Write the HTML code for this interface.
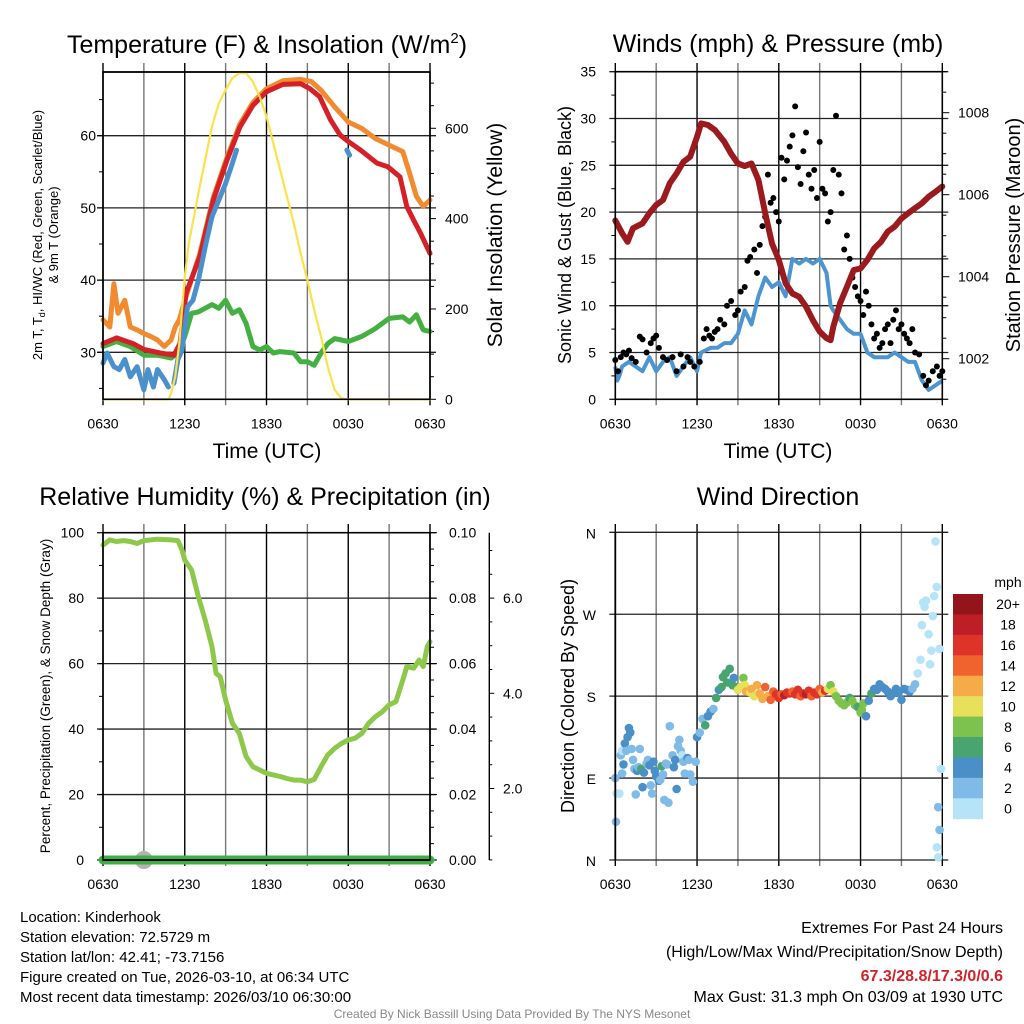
<!DOCTYPE html>
<html><head><meta charset="utf-8">
<style>
html,body{margin:0;padding:0;background:#fff;}
svg{display:block;font-family:"Liberation Sans",Arial,sans-serif;}
</style></head>
<body>
<svg id="fig" width="1024" height="1024" viewBox="0 0 1024 1024" xmlns="http://www.w3.org/2000/svg">
<rect width="1024" height="1024" fill="#fff"/>
<g id="p1"></g>
<g id="p2"></g>
<g id="p3"></g>
<g id="p4"></g>

<text x="267" y="53" font-size="25" text-anchor="middle">Temperature (F) &amp; Insolation (W/m<tspan dy="-10" font-size="15">2</tspan><tspan dy="10">)</tspan></text>
<text x="778" y="52" font-size="25" text-anchor="middle">Winds (mph) &amp; Pressure (mb)</text>
<text x="265" y="505" font-size="25" text-anchor="middle">Relative Humidity (%) &amp; Precipitation (in)</text>
<text x="778" y="505" font-size="25" text-anchor="middle">Wind Direction</text>

<text x="267" y="458" font-size="21" text-anchor="middle">Time (UTC)</text>
<text x="778" y="458" font-size="21" text-anchor="middle">Time (UTC)</text>

<text transform="translate(42,235) rotate(-90)" font-size="13" text-anchor="middle">2m T, T<tspan dy="3" font-size="9">d</tspan><tspan dy="-3">, HI/WC (Red, Green, Scarlet/Blue)</tspan></text>
<text transform="translate(58,235) rotate(-90)" font-size="13" text-anchor="middle">&amp; 9m T (Orange)</text>
<text transform="translate(502,235) rotate(-90)" font-size="21" text-anchor="middle">Solar Insolation (Yellow)</text>
<text transform="translate(571,235) rotate(-90)" font-size="18" text-anchor="middle">Sonic Wind &amp; Gust (Blue, Black)</text>
<text transform="translate(1020,235) rotate(-90)" font-size="20" text-anchor="middle">Station Pressure (Maroon)</text>
<text transform="translate(50,696) rotate(-90)" font-size="13.5" text-anchor="middle">Percent, Precipitation (Green), &amp; Snow Depth (Gray)</text>
<text transform="translate(574,696) rotate(-90)" font-size="18" text-anchor="middle">Direction (Colored By Speed)</text>

<g font-size="15">
<text x="20" y="922">Location: Kinderhook</text>
<text x="20" y="942">Station elevation: 72.5729 m</text>
<text x="20" y="962">Station lat/lon: 42.41; -73.7156</text>
<text x="20" y="982">Figure created on Tue, 2026-03-10, at 06:34 UTC</text>
<text x="20" y="1002">Most recent data timestamp: 2026/03/10 06:30:00</text>
</g>
<g font-size="16" text-anchor="end">
<text x="1003" y="933">Extremes For Past 24 Hours</text>
<text x="1003" y="957">(High/Low/Max Wind/Precipitation/Snow Depth)</text>
<text x="1003" y="981" fill="#d0222a" font-weight="bold">67.3/28.8/17.3/0/0.6</text>
<text x="1003" y="1002">Max Gust: 31.3 mph On 03/09 at 1930 UTC</text>
</g>
<text x="512" y="1018" font-size="12" fill="#888" text-anchor="middle">Created By Nick Bassill Using Data Provided By The NYS Mesonet</text>
</svg>
<script>
// ---------- data ----------
var xTickLabels = ["0630","1230","1830","0030","0630"];
// temperature panel
var tempRedHours = [0,1,2.2,3,4.2,5.2,5.65,6.1,7.1,8.1,9.1,10.05,11,12,13.2,14.5,15.2,15.9,16.7,17.4,18,18.9,20.1,20.9,21.8,22.3,22.8,23.3,24];
var tempRed = [31.2,32.0,31.2,30.4,29.9,29.6,31.2,38.2,43.2,51.1,56.6,61.2,64.2,66.1,67.1,67.2,66.5,65.4,62.2,60.1,59.2,58.0,56.2,55.7,54.3,50.2,48.3,46.5,43.7];
var tempOrangeHours = [0,0.5,0.8,1.1,1.6,2,2.5,3,3.5,4,4.5,5,5.3,5.6,6,7.1,8.1,9.1,10.05,11,12,13.2,14.5,15.3,16,17,18,19,20,21,22,22.5,23,23.5,24];
var tempOrange = [34.5,33.5,39.5,35.4,37.2,33.5,33.1,32.6,32.2,31.7,30.8,31.7,33.5,34.5,37.2,43.6,51.5,57.0,61.6,64.6,66.5,67.6,67.8,67.5,66.3,64.0,61.9,61.0,59.6,58.7,57.8,54.8,51.6,50.2,51.1];
var tempBlueHours = [0,0.3,0.8,1.2,1.6,2,2.5,3,3.3,3.7,4,4.5,4.8];
var tempBlue = [28.5,29.9,28.0,27.6,29.0,26.6,28.0,24.8,27.6,25.2,27.6,26.2,25.2];
var tempBlue2Hours = [5.2,5.5,5.8,6,6.2,6.6,7,7.5,8,8.5,9,9.5,9.8];
var tempBlue2 = [25.7,29.0,30.3,33.5,36.3,37.2,40.0,44.6,48.8,51.1,53.4,56.2,58.0];
var tempBlue3Hours = [17.9,18.1];
var tempBlue3 = [58.0,57.3];
var dewHours = [0,1,2,3,4,5,5.5,6,6.5,7,8,8.5,9,9.5,10,10.5,11,11.5,12,12.5,13,14,14.5,15,15.5,16,16.5,17,18,19,20,21,22,22.5,23,23.5,24];
var dewpoint = [30.8,31.5,30.8,29.6,29.6,29.2,29.9,32.2,35.4,35.6,36.6,36.1,37.2,35.4,35.9,34.0,30.8,30.3,30.8,29.9,30.1,29.9,28.7,28.7,28.2,29.9,31.2,31.9,31.5,32.2,33.3,34.7,34.9,34.2,35.2,33.1,32.9];
var solarHours = [0,4.8,5,5.3,5.6,6,6.3,7,7.5,8,8.5,9,9.5,10,10.5,11,11.5,12,12.5,13,13.5,14,14.5,15,15.5,16,16.5,17,17.5,18,24];
var solar = [0,0,13,50,124,272,345,456,530,604,655,685,711,722,722,703,670,626,567,508,449,390,323,264,198,139,72,21,2,0,0];
var tempTicks = [30,40,50,60];
var solarTicks = [0,200,400,600];
// wind panel
var windHours = [0,0.15,0.3,0.5,1,1.5,2,2.5,3,3.5,4,4.5,5,5.5,6,6.3,7,7.5,8,8.5,9,9.5,10,10.5,11,11.5,12,12.5,13,13.5,14,14.5,15,15.5,15.8,16,16.5,17,17.5,18,18.5,19,19.5,20,20.5,21,21.5,22,22.5,23,23.5,24];
var windSpeed = [3.5,2.0,2.5,3.5,4.0,3.5,3.0,4.5,3.0,4.0,4.5,2.5,3.5,4.5,3.0,5.0,5.5,5.5,6.0,6.0,7.0,9.5,8.0,11.0,13.0,12.0,12.5,11.0,15.0,14.5,15.0,14.5,15.0,13.5,10.0,9.5,8.5,7.5,7.0,7.0,5.0,4.5,4.5,4.5,5.0,4.5,4.0,4.0,2.0,1.0,1.5,2.0];
var gustHours = [0,0.2,0.4,0.6,0.8,1,1.2,1.5,1.8,2,2.3,2.6,2.8,3,3.2,3.5,3.8,4.2,4.5,4.8,5,5.3,5.5,5.8,6.2,6.5,6.7,6.9,7.1,7.3,7.5,7.7,8,8.2,8.5,8.8,9,9.2,9.5,9.7,9.9,10.2,10.4,10.6,10.8,11,11.2,11.4,11.6,11.8,12,12.2,12.4,12.6,12.8,13,13.2,13.4,13.6,13.8,14,14.2,14.4,14.6,14.8,15,15.2,15.4,15.6,15.8,16,16.2,16.4,16.6,16.8,17,17.2,17.4,17.6,17.8,18,18.2,18.4,18.6,18.8,19,19.2,19.4,19.6,19.8,20,20.2,20.4,20.6,20.8,21,21.2,21.4,21.6,21.8,22,22.3,22.6,22.8,23,23.3,23.6,23.8,24];
var gusts = [4.2,3.0,4.5,5.0,4.8,5.2,4.4,4.0,6.7,6.4,5.0,6.0,6.5,6.8,5.5,4.5,4.2,4.5,3.0,4.8,3.5,4.5,4.0,3.5,4.0,6.5,7.5,6.8,6.5,7.2,7.5,8.5,8.0,10.0,10.5,9.0,9.5,11.5,12.0,14.8,15.2,16.0,13.5,16.5,18.5,19.5,24.0,21.0,21.5,20.0,19.0,25.8,23.5,25.5,27.0,28.2,31.3,24.8,23.0,26.5,28.5,24.0,22.5,24.5,21.5,27.5,22.5,22.0,19.0,20.0,24.5,30.3,24.0,22.0,16.0,17.5,15.0,13.0,12.0,11.0,10.5,9.0,11.5,10.0,8.0,6.5,7.0,5.5,6.0,7.5,8.0,6.0,8.5,9.5,7.5,8.0,7.0,6.5,6.0,7.5,5.0,4.8,2.5,1.5,2.0,3.0,3.5,2.5,3.0];
var pressHours = [0,0.5,0.9,1.3,2,2.5,3,3.5,4,4.5,5,5.5,6,6.3,6.8,7.3,8,8.5,9,9.5,10,10.5,11,11.5,12,12.5,13,13.5,14,14.5,15,15.5,15.8,16,16.5,17,17.5,18,18.5,19,19.5,20,20.5,21,21.5,22,22.5,23,23.5,24];
var pressure = [1005.37,1005.06,1004.85,1005.18,1005.30,1005.55,1005.75,1005.87,1006.28,1006.52,1006.80,1006.93,1007.41,1007.74,1007.70,1007.58,1007.29,1007.00,1006.76,1006.70,1006.76,1006.36,1005.55,1004.81,1004.41,1003.84,1003.59,1003.51,1003.27,1002.94,1002.66,1002.50,1002.45,1002.78,1003.35,1003.75,1004.16,1004.20,1004.41,1004.69,1004.85,1005.10,1005.22,1005.42,1005.55,1005.67,1005.79,1005.95,1006.07,1006.20];
var windTicks = [0,5,10,15,20,25,30,35];
var pressTicks = [1002,1004,1006,1008];
// humidity panel
var rhHours = [0,0.5,1,1.5,2,2.5,3,4,5,5.5,5.8,6,6.5,7,7.5,8,8.3,8.6,9,9.5,10,10.5,11,11.5,12,12.5,13,13.5,14,14.5,15,15.5,16,16.5,17,17.5,18,18.5,19,19.5,20,20.5,21,21.5,22,22.3,22.8,23.2,23.5,23.8,24];
var rh = [96.2,97.8,97.3,97.6,97.3,96.7,97.6,98.0,97.8,97.6,94.7,91.6,88.6,80.4,73.3,65.2,57.0,56.0,48.9,41.8,38.7,31.6,28.5,27.5,26.5,26.0,25.5,24.9,24.4,24.4,23.9,24.6,28.5,32.1,34.1,35.6,36.7,37.2,38.7,41.8,43.8,45.3,47.4,48.4,55.0,59.1,58.6,61.1,59.1,65.2,66.7];
var precipHours = [0,24];
var precip = [0,0];
var snowHours = [3];
var snowDepth = [0];
var rhTicks = [0,20,40,60,80,100];
var precipTickLabels = ["0.00","0.02","0.04","0.06","0.08","0.10"];
var snowTicks = [2,4,6];
// direction panel
var dirHours = [0,0.05,0.1,0.3,0.4,0.5,0.5,0.6,0.7,0.8,0.9,1,1.1,1.2,1.3,1.4,1.5,1.6,1.7,1.8,1.9,2,2.1,2.3,2.4,2.5,2.6,2.7,2.8,2.9,3,3.2,3.3,3.4,3.5,3.6,3.7,3.8,3.9,4,4.2,4.3,4.4,4.5,4.6,4.7,4.8,4.9,5,5.1,5.3,5.4,5.5,5.7,5.9,6,6.2,6.4,6.6,6.8,7,7.2,7.4,7.6,7.8,7.9,8.1,8.2,8.4,8.6,8.7,8.9,9,9.2,9.4,9.5,9.6,9.9,10,10.2,10.4,10.6,10.8,11,11.2,11.4,11.6,11.8,12,12.2,12.4,12.6,12.8,13,13.2,13.4,13.6,13.8,14,14.2,14.4,14.6,14.8,15,15.2,15.4,15.6,15.8,16,16.2,16.4,16.6,16.8,17,17.2,17.4,17.6,17.8,18,18.1,18.2,18.4,18.6,18.8,19,19.2,19.4,19.6,19.8,20,20.2,20.4,20.6,20.8,21,21.2,21.4,21.6,21.8,22,22.2,22.4,22.5,22.6,22.7,22.8,23,23.1,23.2,23.3,23.4,23.5,23.6,23.8,23.9,23.7,23.8,23.6,23.7];
var dirDeg = [90,42,73,73,115,120,95,105,128,120,135,145,140,122,110,100,72,98,102,122,100,80,96,106,110,104,82,73,108,98,92,87,88,103,94,66,106,105,63,147,115,102,110,78,125,132,120,115,108,95,112,110,94,86,108,135,140,155,148,158,163,166,178,187,190,201,205,195,210,192,200,190,187,190,200,192,185,184,188,180,192,183,177,190,180,176,185,182,178,182,181,184,183,185,182,187,180,183,182,186,180,184,182,188,184,186,188,192,185,180,175,172,170,173,178,175,170,168,162,165,172,158,175,183,188,187,193,190,188,185,180,183,188,184,176,188,187,185,188,193,205,220,258,283,278,285,248,215,230,268,290,350,300,232,100,58,33,14,3];
var dirSpeed = [2,2,1,1,2,1,2,4,4,3,4,4,4,2,2,3,2,4,3,2,6,4,4,2,2,4,2,2,4,4,4,5,3,7,2,2,3,3,2,2,2,4,4,4,2,2,2,1,2,2,4,2,2,2,2,4,2,3,6,4,4,3,6,4,6,6,6,6,6,7,5,7,10,10,8,10,12,11,12,11,13,12,12,14,12,15,14,16,16,15,18,16,16,15,17,17,14,16,18,16,15,17,16,14,13,16,11,9,11,8,8,8,8,8,6,8,8,7,9,8,8,4,4,7,4,4,4,4,4,4,4,4,4,4,4,4,4,4,3,3,1,1,1,1,1,1,1,1,1,1,1,1,1,1,1,3,3,1,1];
var dirLabels = ["N","E","S","W","N"];
var speedBinLabels = ["0","2","4","6","8","10","12","14","16","18","20+"];
var speedColors = ["#b5e3f8","#7fbbe6","#4a8fc7","#48a56f","#7cc24c","#e6e05b","#f6aa48","#f0622e","#dd3329","#be1e25","#931519"];

// ---------- helpers ----------
var NS = "http://www.w3.org/2000/svg";
function mk(parent, tag, attrs) {
  var e = document.createElementNS(NS, tag);
  for (var k in attrs) e.setAttribute(k, attrs[k]);
  parent.appendChild(e);
  return e;
}
function txt(parent, x, y, s, size, anchor) {
  var t = mk(parent, "text", {x: x, y: y, "font-size": size, "text-anchor": anchor});
  t.textContent = s;
  return t;
}
function linePath(hours, vals, xf, yf) {
  var d = "";
  for (var i = 0; i < hours.length; i++) d += (i ? "L" : "M") + xf(hours[i]).toFixed(1) + " " + yf(vals[i]).toFixed(1);
  return d;
}
function frame(g, L, R, T, B, gridTop, ys) {
  for (var k = 0; k <= 8; k++) {
    var x = L + k * (R - L) / 8;
    var vl = mk(g, "line", {x1: x, x2: x, y1: gridTop, y2: B + 6, stroke: k % 2 ? "#777" : "#000", "stroke-width": 1.4});
    
    
  }
  for (var j = 0; j < xTickLabels.length; j++) {
    var tl = txt(g, L + j * (R - L) / 4, B + 29, xTickLabels[j], 14, "middle");
    
    
  }
  for (var i = 0; i < ys.length; i++) {
    var hl = mk(g, "line", {x1: L - 6, x2: R + 6, y1: ys[i], y2: ys[i], stroke: "#222", "stroke-width": 1.3});
    
    
  }
}
function box(g, L, R, T, B) {
  var r = mk(g, "rect", {x: L, y: T, width: R - L, height: B - T, fill: "none", stroke: "#000", "stroke-width": 1.6});
  
  
}

// ---------- Panel 1: temperature ----------
(function(){
  var g = document.getElementById("p1");
  var L = 103, R = 430, T = 72, B = 399.3;
  var x = function(h){ return L + h * (R - L) / 24; };
  var yT = function(v){ return 352.3 - (v - 30) * 7.22; };
  var yS = function(v){ return 399.3 - v * 0.4517; };
  frame(g, L, R, T, B, 63, tempTicks.map(yT));
  mk(g, "line", {x1: L, x2: R, y1: T, y2: T, stroke: "#000", "stroke-width": 1.4});
  for (var v = 25; v <= 65; v += 5) {
    var mt = mk(g, "line", {x1: L - (v % 10 ? 4 : 6), x2: L, y1: yT(v), y2: yT(v), stroke: "#000", "stroke-width": 1});
    
    
  }
  for (var s = 0; s <= 700; s += 50) {
    var st = mk(g, "line", {x1: R, x2: R + (s % 200 ? 4 : 6), y1: yS(s), y2: yS(s), stroke: "#000", "stroke-width": 1});
    
    
  }
  tempTicks.forEach(function(t){
    var e = txt(g, 96, yT(t) + 5, String(t), 14, "end");
    
    
  });
  solarTicks.forEach(function(t){
    var e = txt(g, 445, yS(t) + 5, String(t), 14, "start");
    
    
  });
  var series = [
    [tempOrangeHours, tempOrange, "#f28a30", 5, yT, "nine-meter-temp-line"],
    [dewHours, dewpoint, "#44b041", 5, yT, "dewpoint-line"],
    [tempRedHours, tempRed, "#d62027", 5, yT, "two-meter-temp-line"],
    [tempBlueHours, tempBlue, "#4a90cc", 5, yT, "wind-chill-line"],
    [tempBlue2Hours, tempBlue2, "#4a90cc", 5, yT, "wind-chill-line-2"],
    [tempBlue3Hours, tempBlue3, "#4a90cc", 5, yT, "wind-chill-line-3"],
    [solarHours, solar, "#fde14a", 2.2, yS, "solar-insolation-line"]
  ];
  series.forEach(function(s){
    var p = mk(g, "path", {d: linePath(s[0], s[1], x, s[4]), fill: "none", stroke: s[2], "stroke-width": s[3], "stroke-linejoin": "round", "stroke-linecap": "round"});
    
    
  });
  box(g, L, R, T, B);
})();

// ---------- Panel 2: wind & pressure ----------
(function(){
  var g = document.getElementById("p2");
  var L = 615.3, R = 942.3, T = 71.7, B = 399.3;
  var x = function(h){ return L + h * (R - L) / 24; };
  var yW = function(v){ return B - v * 9.36; };
  var yP = function(v){ return 358.7 - (v - 1002) * 41; };
  frame(g, L, R, T, B, 63, windTicks.map(yW));
  for (var v = 2.5; v < 35; v += 5) {
    var mt = mk(g, "line", {x1: L - 4, x2: L, y1: yW(v), y2: yW(v), stroke: "#000", "stroke-width": 1});
    
    
  }
  for (var p = 1001.5; p <= 1009; p += 0.5) {
    var pt = mk(g, "line", {x1: R, x2: R + (p % 2 ? 4 : 7), y1: yP(p), y2: yP(p), stroke: "#000", "stroke-width": 1});
    
    
  }
  windTicks.forEach(function(t){
    var e = txt(g, 596, yW(t) + 5, String(t), 14, "end");
    
    
  });
  pressTicks.forEach(function(t){
    var e = txt(g, 958, yP(t) + 5, String(t), 14, "start");
    
    
  });
  var wl = mk(g, "path", {d: linePath(windHours, windSpeed, x, yW), fill: "none", stroke: "#4d95d1", "stroke-width": 4, "stroke-linejoin": "round"});
  
  
  for (var i = 0; i < gusts.length; i++) {
    var c = mk(g, "circle", {cx: x(gustHours[i]), cy: yW(gusts[i]), r: 3, fill: "#000"});
    
    
  }
  var pl = mk(g, "path", {d: linePath(pressHours, pressure, x, yP), fill: "none", stroke: "#9b1a1d", "stroke-width": 6, "stroke-linejoin": "round", "stroke-linecap": "round"});
  
  
  box(g, L, R, T, B);
})();

// ---------- Panel 3: humidity ----------
(function(){
  var g = document.getElementById("p3");
  var L = 103, R = 430, T = 532.7, B = 860;
  var x = function(h){ return L + h * (R - L) / 24; };
  var yR = function(v){ return B - v * 3.273; };
  var yPr = function(v){ return B - v * 3273; };
  var ySn = function(v){ return 883.7 - v * 47.6; };
  frame(g, L, R, T, B, 524, rhTicks.map(yR));
  for (var v = 10; v < 100; v += 10) {
    var mt = mk(g, "line", {x1: L - 4, x2: L, y1: yR(v), y2: yR(v), stroke: "#000", "stroke-width": 1});
    
    
  }
  for (var q = 0; q <= 100; q += 5) {
    var qt = mk(g, "line", {x1: R, x2: R + (q % 20 ? 4 : 7), y1: yR(q), y2: yR(q), stroke: "#000", "stroke-width": 1});
    
    
  }
  rhTicks.forEach(function(t){
    var e = txt(g, 84, yR(t) + 5, String(t), 14, "end");
    
    
  });
  precipTickLabels.forEach(function(s, i){
    var e = txt(g, 449, yR(i * 20) + 5, s, 14, "start");
    
    
  });
  var sa = mk(g, "line", {x1: 489.3, x2: 489.3, y1: T, y2: B, stroke: "#000", "stroke-width": 1.4});
  
  
  for (var sd = 0.5; sd <= 7; sd += 0.5) {
    if (ySn(sd) < T) break;
    var sdt = mk(g, "line", {x1: 489.3, x2: 489.3 + (sd % 2 ? 3 : 5), y1: ySn(sd), y2: ySn(sd), stroke: "#000", "stroke-width": 1});
    
    
  }
  snowTicks.forEach(function(t){
    var e = txt(g, 503, ySn(t) + 5, t.toFixed(1), 14, "start");
    
    
  });
  for (var k = 0; k < snowHours.length; k++) {
    var sc = mk(g, "circle", {cx: x(snowHours[k]), cy: ySn(0) - 23.7 + snowDepth[k], r: 9, fill: "#b3b3b3"});
    
    
  }
  var pr = mk(g, "path", {d: linePath(precipHours, precip, x, yPr), fill: "none", stroke: "#3cb043", "stroke-width": 9, "stroke-linecap": "round"});
  
  
  var rl = mk(g, "path", {d: linePath(rhHours, rh, x, yR), fill: "none", stroke: "#8dc84b", "stroke-width": 5, "stroke-linejoin": "round", "stroke-linecap": "round"});
  
  
  box(g, L, R, T, B);
  mk(g, "line", {x1: L, x2: R, y1: B, y2: B, stroke: "#000", "stroke-width": 2});
})();

// ---------- Panel 4: wind direction ----------
(function(){
  var g = document.getElementById("p4");
  var L = 615.3, R = 942.3, T = 532.3, B = 860;
  var x = function(h){ return L + h * (R - L) / 24; };
  var yD = function(d){ return B - d * (B - T) / 360; };
  frame(g, L, R, T, B, 524, [0,90,180,270,360].map(yD));
  dirLabels.forEach(function(s, i){
    var e = txt(g, 596, yD(i * 90) + 6, s, 14, "end");
    
    
  });
  for (var i = 0; i < dirDeg.length; i++) {
    var bin = Math.min(10, Math.floor(dirSpeed[i] / 2));
    var c = mk(g, "circle", {cx: x(dirHours[i]), cy: yD(dirDeg[i]), r: 4.3, fill: speedColors[bin]});
    
    
  }
  mk(g, "line", {x1: L, x2: L, y1: T, y2: B, stroke: "#000", "stroke-width": 1.8});
  var cb = mk(g, "g", {});
  
  
  var top = 594, bh = (818.7 - 594) / 11;
  for (var k = 0; k < 11; k++) {
    var idx = 10 - k;
    var r = mk(cb, "rect", {x: 953, y: top + k * bh, width: 30, height: bh + 0.5, fill: speedColors[idx]});
    
    
    var t = txt(cb, 1008, top + k * bh + bh / 2 + 5, speedBinLabels[idx], 14, "middle");
    
    
  }
  var u = txt(cb, 1008, 587, "mph", 14, "middle");
  
  
})();
</script>
</body></html>
